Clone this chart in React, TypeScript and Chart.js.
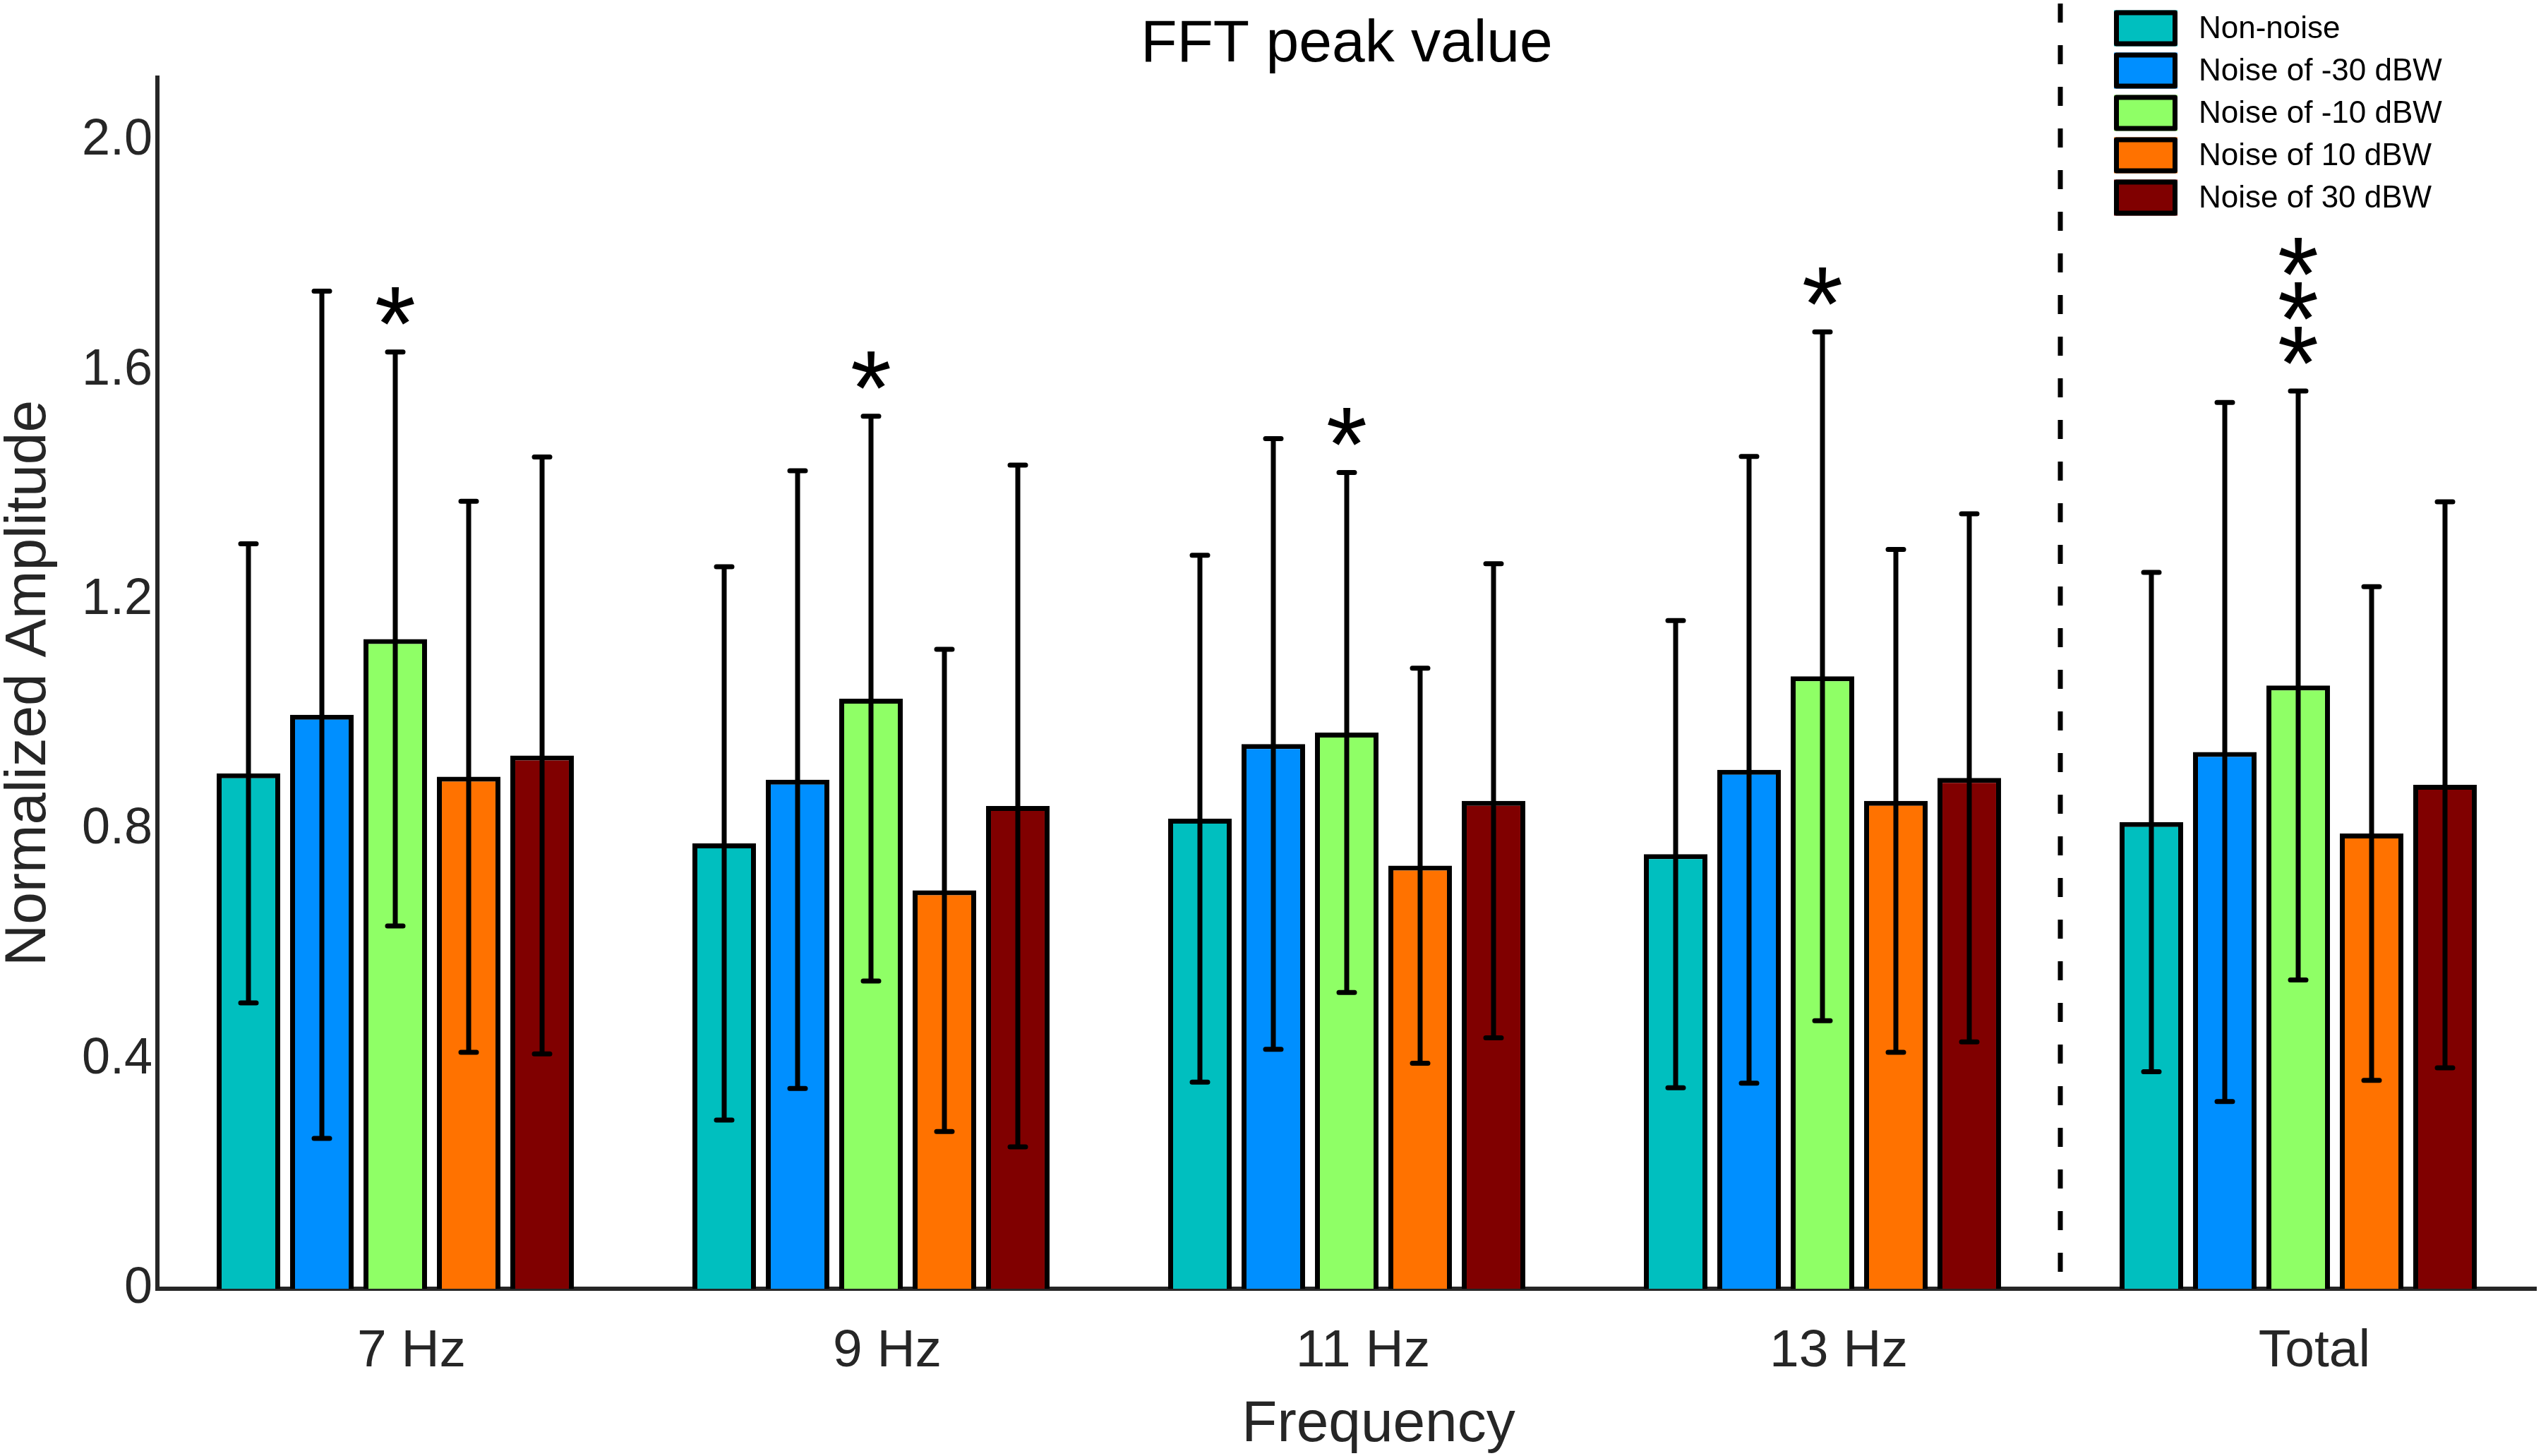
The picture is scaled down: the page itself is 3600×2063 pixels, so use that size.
import React, { useEffect, useRef } from 'react';
import { Chart, registerables } from 'chart.js';

Chart.register(...registerables);

// ---------------- data ----------------
const CATEGORIES = ['7 Hz', '9 Hz', '11 Hz', '13 Hz', 'Total'];
const SERIES_LABELS = ['Non-noise', 'Noise of -30 dBW', 'Noise of -10 dBW', 'Noise of 10 dBW', 'Noise of 30 dBW'];
const SERIES_COLORS = ['#00BFBF', '#008FFF', '#8FFF66', '#FF7200', '#800000'];

const NON_NOISE = [0.898, 0.776, 0.819, 0.757, 0.813];
const NON_NOISE_SD = [0.400, 0.482, 0.459, 0.407, 0.435];
const NOISE_M30 = [1.000, 0.887, 0.949, 0.904, 0.935];
const NOISE_M30_SD = [0.738, 0.538, 0.532, 0.546, 0.609];
const NOISE_M10 = [1.132, 1.028, 0.969, 1.067, 1.051];
const NOISE_M10_SD = [0.500, 0.492, 0.453, 0.600, 0.513];
const NOISE_P10 = [0.892, 0.694, 0.737, 0.850, 0.793];
const NOISE_P10_SD = [0.480, 0.420, 0.344, 0.438, 0.430];
const NOISE_P30 = [0.929, 0.841, 0.850, 0.890, 0.878];
const NOISE_P30_SD = [0.520, 0.594, 0.413, 0.460, 0.493];

const SERIES_VALUES = [NON_NOISE, NOISE_M30, NOISE_M10, NOISE_P10, NOISE_P30];
const SERIES_SD = [NON_NOISE_SD, NOISE_M30_SD, NOISE_M10_SD, NOISE_P10_SD, NOISE_P30_SD];

const Y_TICKS = [0, 0.4, 0.8, 1.2, 1.6, 2.0];
const Y_TICK_LABELS = ['0', '0.4', '0.8', '1.2', '1.6', '2.0'];
const Y_MIN = 0;
const Y_MAX = 2.11;

// significance stars drawn above the "Noise of -10 dBW" bars
const STAR_SERIES = 2;
const STAR_COUNTS = [1, 1, 1, 1, 3];

const TITLE = 'FFT peak value';
const X_TITLE = 'Frequency';
const Y_TITLE = 'Normalized Amplitude';

// ---------------- styling ----------------
const FONT = '"Liberation Sans", Arial, Helvetica, sans-serif';
const AXIS_COLOR = '#262626';

const overlayPlugin = {
  id: 'overlay',
  beforeDatasetsDraw(chart: any) {
    const { ctx, chartArea } = chart;
    const xs = chart.scales.x;
    // dashed separator between "13 Hz" and "Total"
    const sepX = (xs.getPixelForValue(3) + xs.getPixelForValue(4)) / 2;
    ctx.save();
    ctx.strokeStyle = '#000';
    ctx.lineWidth = 7;
    ctx.setLineDash([27, 32]);
    ctx.beginPath();
    ctx.moveTo(sepX, 5);
    ctx.lineTo(sepX, chartArea.bottom);
    ctx.stroke();
    ctx.restore();
  },
  afterDatasetsDraw(chart: any) {
    const { ctx } = chart;
    const ys = chart.scales.y;
    chart.data.datasets.forEach((ds: any, di: number) => {
      const meta = chart.getDatasetMeta(di);
      meta.data.forEach((bar: any, i: number) => {
        const m = ds.data[i];
        const sd = SERIES_SD[di][i];
        const cx = bar.x;
        const yTop = ys.getPixelForValue(m + sd);
        const yBot = ys.getPixelForValue(m - sd);
        ctx.save();
        ctx.strokeStyle = '#000';
        ctx.lineWidth = 7;
        ctx.lineCap = 'butt';
        ctx.beginPath();
        ctx.moveTo(cx, yTop);
        ctx.lineTo(cx, yBot);
        ctx.stroke();
        ctx.lineWidth = 7;
        ctx.lineCap = 'round';
        ctx.beginPath();
        ctx.moveTo(cx - 11, yTop);
        ctx.lineTo(cx + 11, yTop);
        ctx.moveTo(cx - 11, yBot);
        ctx.lineTo(cx + 11, yBot);
        ctx.stroke();
        ctx.restore();

        if (di === STAR_SERIES) {
          const n = STAR_COUNTS[i];
          ctx.save();
          ctx.fillStyle = '#000';
          ctx.font = `150px ${FONT}`;
          ctx.textAlign = 'center';
          ctx.textBaseline = 'alphabetic';
          const mt = ctx.measureText('*');
          const asc = mt.actualBoundingBoxAscent;
          const desc = mt.actualBoundingBoxDescent;
          const mid = (asc - desc) / 2;
          for (let k = 0; k < n; k++) {
            const cy = yTop - 65 - k * 63;
            ctx.fillText('*', cx, cy + mid);
          }
          ctx.restore();
        }
      });
    });
  },
  afterDraw(chart: any) {
    const { ctx, chartArea } = chart;
    ctx.save();
    // title
    ctx.fillStyle = '#000';
    ctx.font = `84px ${FONT}`;
    ctx.textAlign = 'center';
    ctx.textBaseline = 'alphabetic';
    ctx.fillText(TITLE, (chartArea.left + chartArea.right) / 2, 87);

    // x axis title
    ctx.fillStyle = AXIS_COLOR;
    ctx.font = `82px ${FONT}`;
    ctx.fillText(X_TITLE, 1953, 2042);

    // y axis title
    ctx.save();
    ctx.translate(64, (chartArea.top + chartArea.bottom) / 2);
    ctx.rotate(-Math.PI / 2);
    ctx.textAlign = 'center';
    ctx.textBaseline = 'alphabetic';
    ctx.fillText(Y_TITLE, 0, 0);
    ctx.restore();

    // legend
    const swX = 2995;
    const swW = 90;
    const swH = 51;
    const rowY0 = 40;
    const rowStep = 60;
    ctx.font = `44px ${FONT}`;
    ctx.textAlign = 'left';
    ctx.textBaseline = 'middle';
    chart.data.datasets.forEach((ds: any, di: number) => {
      const cy = rowY0 + di * rowStep;
      ctx.fillStyle = ds.backgroundColor;
      ctx.fillRect(swX, cy - swH / 2, swW, swH);
      ctx.strokeStyle = '#000';
      ctx.lineWidth = 7;
      ctx.lineJoin = 'round';
      ctx.strokeRect(swX + 3.5, cy - swH / 2 + 3.5, swW - 7, swH - 7);
      ctx.fillStyle = '#000';
      ctx.fillText(ds.label, 3115, cy + 2);
    });
    ctx.restore();
  },
};

export default function App() {
  const canvasRef = useRef<HTMLCanvasElement | null>(null);

  useEffect(() => {
    if (!canvasRef.current) return;
    Chart.defaults.font.family = FONT;
    const chart = new Chart(canvasRef.current, {
      type: 'bar',
      data: {
        labels: CATEGORIES,
        datasets: SERIES_LABELS.map((label, i) => ({
          label,
          data: SERIES_VALUES[i],
          backgroundColor: SERIES_COLORS[i],
          borderColor: '#000',
          borderWidth: 7,
          borderSkipped: 'start',
          categoryPercentage: 0.7715,
          barPercentage: 0.865,
        })),
      },
      options: {
        responsive: false,
        animation: false,
        devicePixelRatio: 1,
        layout: { padding: { left: 0, right: 7, top: 110, bottom: 0 } },
        plugins: {
          legend: { display: false },
          title: { display: false },
          tooltip: { enabled: false },
        },
        scales: {
          x: {
            type: 'category',
            z: 1,
            grid: { display: false, drawTicks: false },
            border: { display: true, color: AXIS_COLOR, width: 6 },
            ticks: {
              color: AXIS_COLOR,
              font: { size: 75, family: FONT },
              padding: 44,
              labelOffset: 23,
              maxRotation: 0,
              autoSkip: false,
            },
            afterFit: (s: any) => {
              s.height = 237;
            },
          },
          y: {
            type: 'linear',
            z: 1,
            min: Y_MIN,
            max: Y_MAX,
            grid: { display: false, drawTicks: false },
            border: { display: true, color: AXIS_COLOR, width: 6 },
            ticks: {
              color: AXIS_COLOR,
              font: { size: 72, family: FONT },
              padding: 7,
              callback: (v: any) => {
                const idx = Y_TICKS.findIndex((t) => Math.abs(t - Number(v)) < 1e-9);
                return idx >= 0 ? Y_TICK_LABELS[idx] : '';
              },
            },
            afterBuildTicks: (s: any) => {
              s.ticks = Y_TICKS.map((v) => ({ value: v }));
            },
            afterFit: (s: any) => {
              s.width = 223;
            },
          },
        },
      },
      plugins: [overlayPlugin],
    } as any);
    return () => chart.destroy();
  }, []);

  return (
    <div style={{ position: 'fixed', left: 0, top: 0, width: 3600, height: 2063, background: '#fff' }}>
      <canvas ref={canvasRef} width={3600} height={2063} style={{ width: 3600, height: 2063, display: 'block' }} />
    </div>
  );
}
